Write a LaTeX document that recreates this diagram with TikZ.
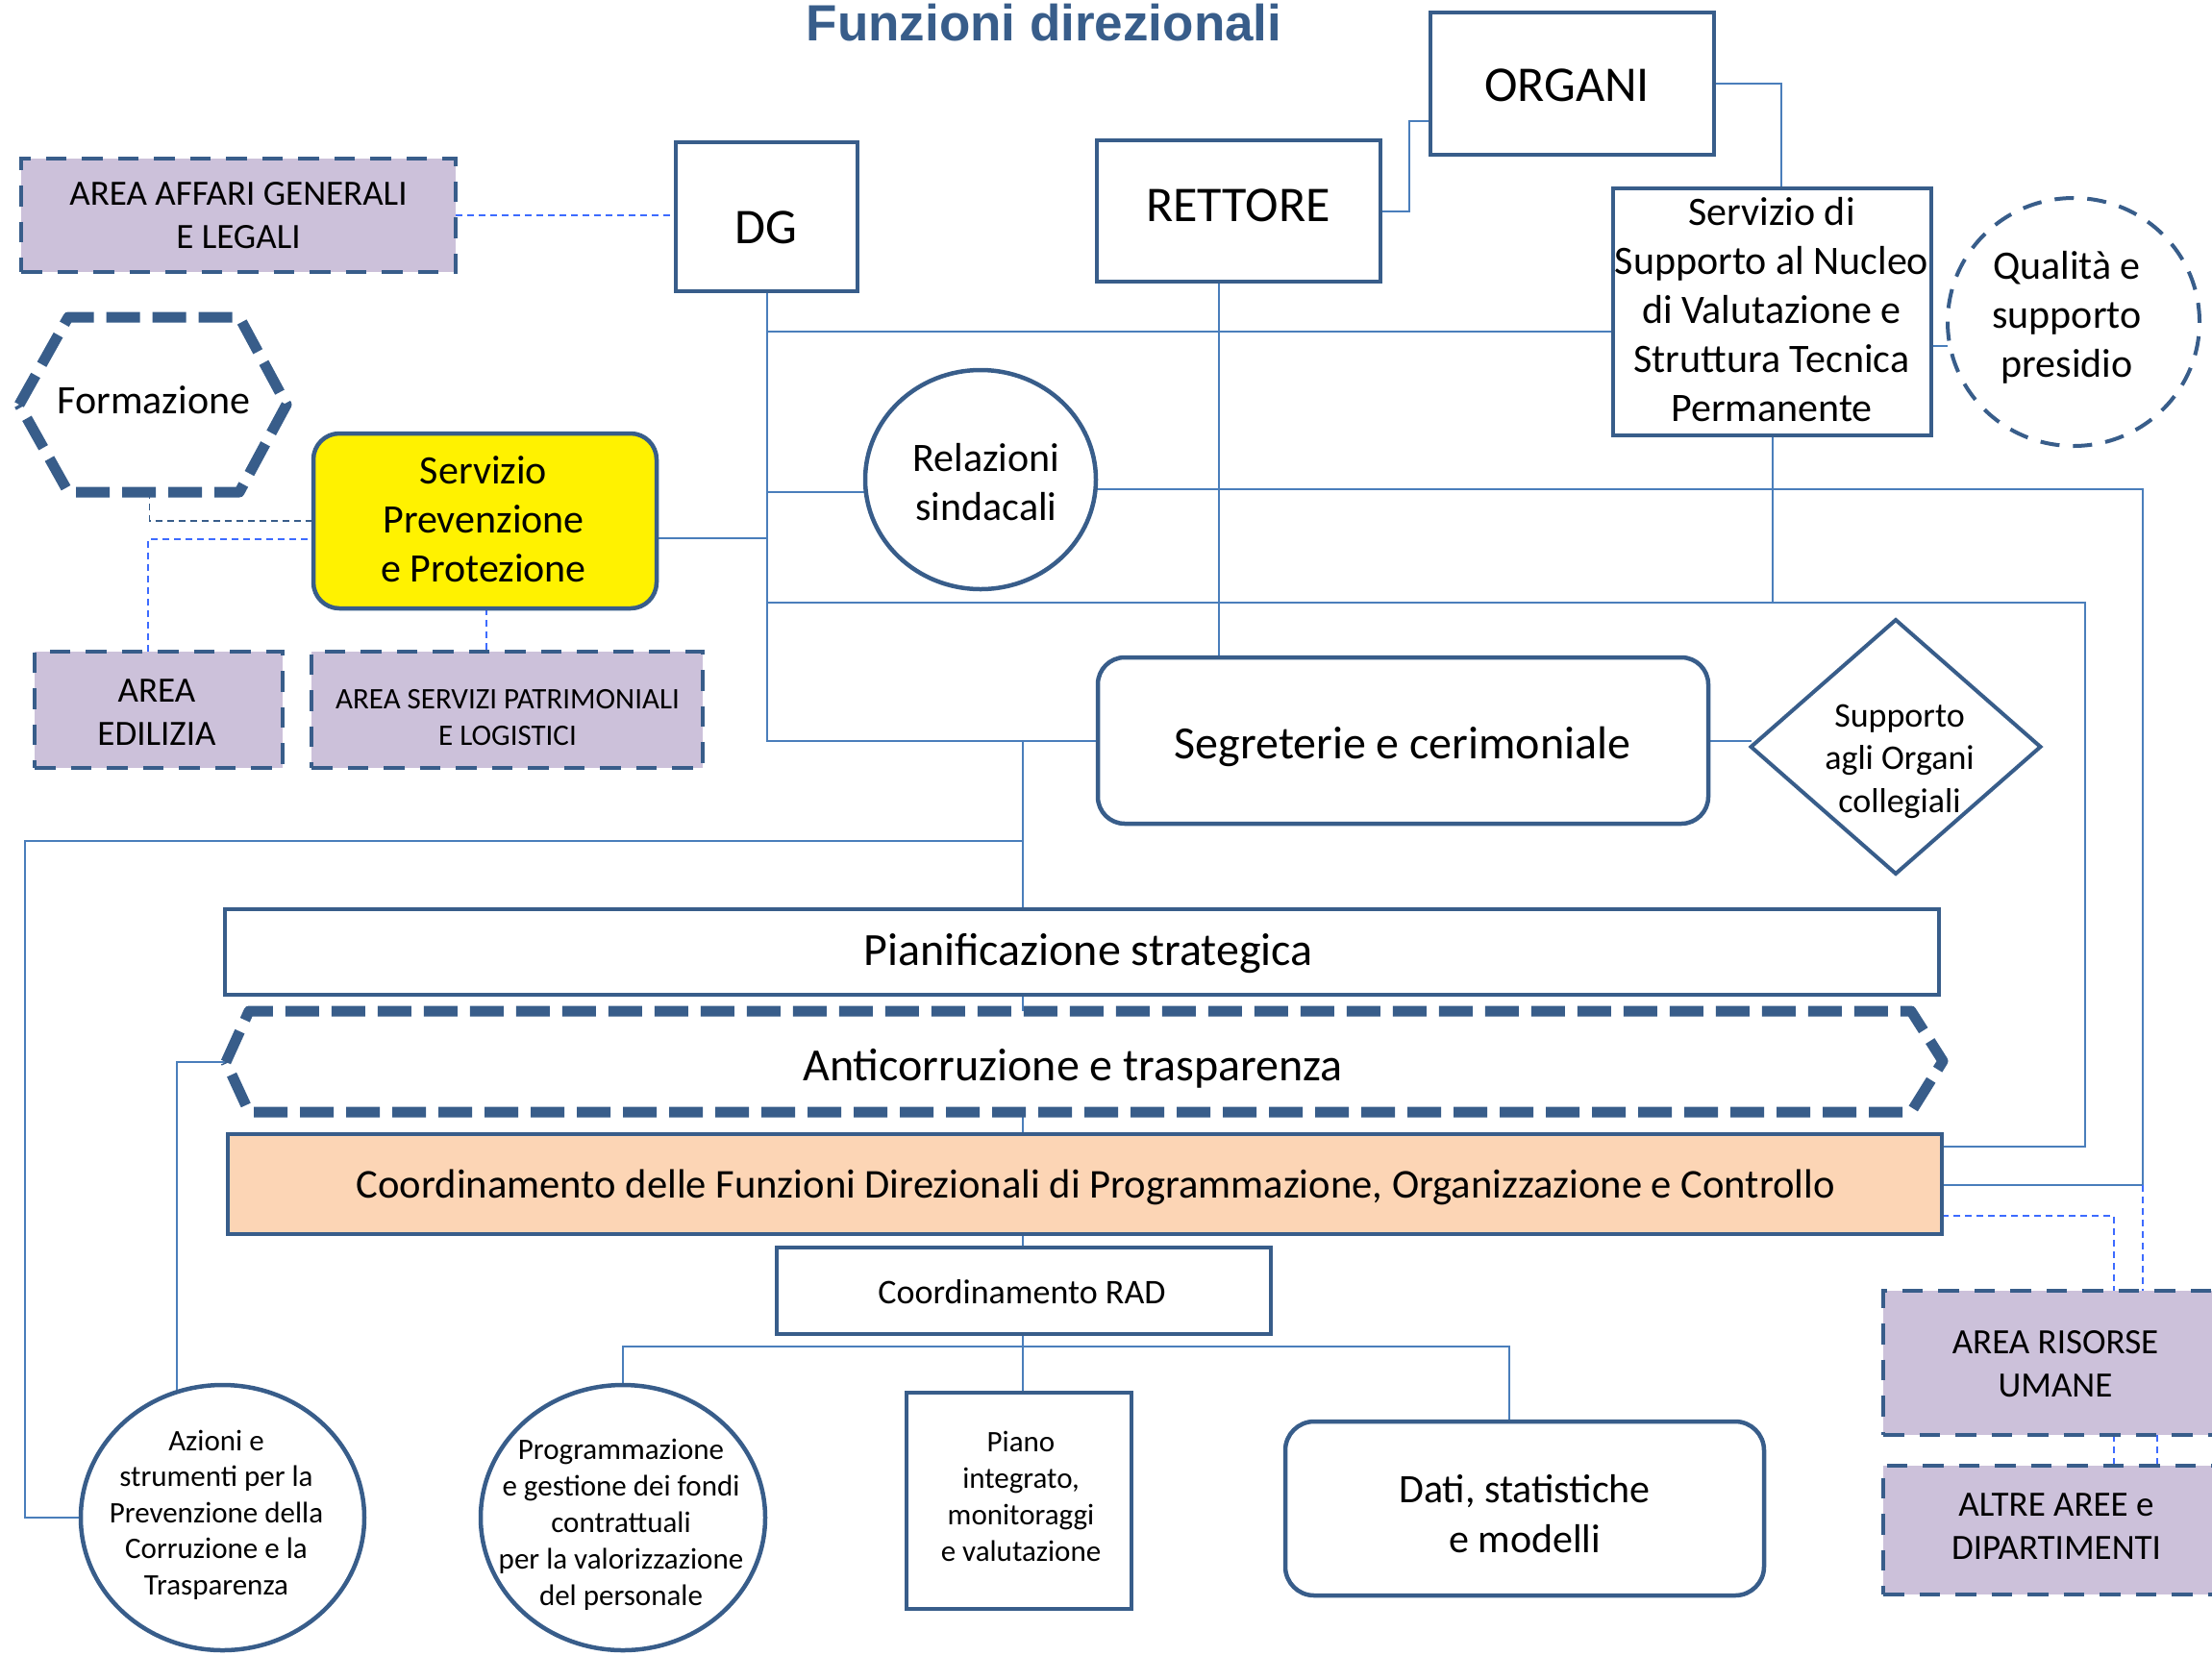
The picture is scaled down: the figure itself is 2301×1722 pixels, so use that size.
\documentclass[tikz,border=0pt]{standalone}
\usepackage{fontspec}
\setmainfont{Carlito}
\newfontfamily\titlefont{Liberation Sans}
\usetikzlibrary{shapes.geometric,calc}
\pgfdeclarelayer{bglayer}
\pgfsetlayers{bglayer,main}
\definecolor{bord}{RGB}{56,93,138}
\definecolor{lnc}{RGB}{74,126,187}
\definecolor{dblue}{RGB}{61,107,255}
\definecolor{lav}{RGB}{204,193,218}
\definecolor{peach}{RGB}{252,213,181}
\newcommand\myfs[2]{\fontsize{#1}{#2}\selectfont}
\begin{document}
\begin{tikzpicture}[x=1pt,y=-1pt,
  box/.style={rectangle,draw=bord,line width=4.5,fill=white,inner sep=0,outer sep=0},
  area/.style={rectangle,draw=bord,line width=4.5,fill=lav,inner sep=0,outer sep=0,dash pattern=on 21.5pt off 16pt},
  conn/.style={draw=lnc,line width=2},
  dconn/.style={draw=dblue,line width=1.6,dash pattern=on 7pt off 5pt},
  ddark/.style={draw=bord,line width=1.6,dash pattern=on 7pt off 5pt},
  txt/.style={align=center,inner sep=0,outer sep=0,execute at begin node=\strut,execute at end node=\strut},
  hexd/.style={draw=bord,line width=11,fill=white,dash pattern=on 35pt off 13pt,line join=round},
  holder/.style={rectangle,inner sep=0,outer sep=0}
]
\useasboundingbox (0,0) rectangle (2301,1722);

% title
\node[anchor=base,inner sep=0,text=bord,font=\titlefont\bfseries\myfs{53}{64}] (title) at (1086,42) {Funzioni direzionali};

% shapes
\node[area,minimum width=452,minimum height=118] (aag) at (248,224) {};
\node[box,minimum width=189,minimum height=155] (dg) at (797.5,225.5) {};
\node[box,minimum width=295,minimum height=147] (rett) at (1288.5,219.5) {};
\node[box,minimum width=295,minimum height=148] (org) at (1635.5,87) {};
\node[box,minimum width=331,minimum height=257] (nuc) at (1843.5,324.5) {};
\node[ellipse,draw=bord,line width=4,dash pattern=on 20pt off 14pt,fill=white,inner sep=0,outer sep=0,minimum width=262,minimum height=258] (qual) at (2157,335) {};
\node[box,ellipse,minimum width=240,minimum height=228] (rel) at (1020,499) {};
\node[holder,minimum width=278,minimum height=182] (form) at (159,421) {};
\draw[hexd] (20,421) -- (71,330) -- (249,330) -- (298,421) -- (249,512) -- (71,512) -- cycle;
\node[box,fill=yellow,rounded corners=27,minimum width=357,minimum height=182] (spp) at (504.5,542) {};
\node[area,minimum width=258,minimum height=121] (edil) at (165,738.5) {};
\node[area,minimum width=407,minimum height=121] (patr) at (527.5,738.5) {};
\node[box,rounded corners=28,minimum width=635,minimum height=173] (seg) at (1459.5,770.5) {};
\node[box,diamond,line width=4,minimum width=301,minimum height=264] (sup) at (1972,777) {};
\node[box,minimum width=1783,minimum height=89] (pian) at (1125.5,990.5) {};
\node[holder,minimum width=1786,minimum height=105] (anti) at (1128,1104.5) {};
\draw[hexd] (235,1105) -- (259,1052) -- (1988,1052) -- (2021,1104) -- (1988,1157) -- (259,1157) -- cycle;
\node[box,fill=peach,minimum width=1783,minimum height=104] (coord) at (1128.5,1232) {};
\node[box,minimum width=514,minimum height=90] (rad) at (1065,1343) {};
\node[box,ellipse,minimum width=295,minimum height=276] (azi) at (231.5,1579) {};
\node[box,ellipse,minimum width=296,minimum height=276] (prog) at (648,1579) {};
\node[box,minimum width=234,minimum height=225] (piano) at (1060,1561.5) {};
\node[box,rounded corners=30,minimum width=498,minimum height=181] (dati) at (1586,1569.5) {};
\node[area,minimum width=358,minimum height=150] (ris) at (2138,1418) {};
\node[area,minimum width=358,minimum height=134] (altre) at (2138,1592) {};

% texts
\node[txt,font=\myfs{37}{45}] (taag) at (248,230.5) {AREA AFFARI GENERALI\\E LEGALI};
\node[txt,font=\myfs{52}{63}] (tdg) at (797,240.5) {DG};
\node[txt,font=\myfs{52}{63}] (trett) at (1288,217.5) {RETTORE};
\node[txt,font=\myfs{52}{63}] (torg) at (1630,93) {ORGANI};
\node[txt,font=\myfs{42}{51}] (tnuc) at (1843,330) {Servizio di\\Supporto al Nucleo\\di Valutazione e\\Struttura Tecnica\\Permanente};
\node[txt,font=\myfs{42}{51}] (tqual) at (2150,334.5) {Qualità e\\supporto\\presidio};
\node[txt,font=\myfs{42}{51}] (trel) at (1026,509.5) {Relazioni\\sindacali};
\node[txt,font=\myfs{42}{51}] (tform) at (160,420) {Formazione};
\node[txt,font=\myfs{42}{51}] (tspp) at (503,547.5) {Servizio\\Prevenzione\\e Protezione};
\node[txt,font=\myfs{37}{45}] (tedil) at (163,748) {AREA\\EDILIZIA};
\node[txt,font=\myfs{31}{38}] (tpatr) at (528,752.5) {AREA SERVIZI PATRIMONIALI\\E LOGISTICI};
\node[txt,font=\myfs{48}{58}] (tseg) at (1459,778) {Segreterie e cerimoniale};
\node[txt,font=\myfs{36}{44.5}] (tsup) at (1976,795.5) {Supporto\\agli Organi\\collegiali};
\node[txt,font=\myfs{48}{58}] (tpian) at (1132,993) {Pianificazione strategica};
\node[txt,font=\myfs{48}{58}] (tanti) at (1116,1113) {Anticorruzione e trasparenza};
\node[txt,font=\myfs{42.6}{52}] (tcoord) at (1140,1236) {Coordinamento delle Funzioni Direzionali di Programmazione, Organizzazione e Controllo};
\node[txt,font=\myfs{36}{44}] (trad) at (1063,1347.5) {Coordinamento RAD};
\node[txt,font=\myfs{31}{37.5}] (tazi) at (225,1579) {Azioni e\\strumenti per la\\Prevenzione della\\Corruzione e la\\Trasparenza};
\node[txt,font=\myfs{31}{38}] (tprog) at (646,1590) {Programmazione\\e gestione dei fondi\\contrattuali\\per la valorizzazione\\del personale};
\node[txt,font=\myfs{31}{38}] (tpiano) at (1062,1563) {Piano\\integrato,\\monitoraggi\\e valutazione};
\node[txt,font=\myfs{42}{52}] (tdati) at (1586,1582.5) {Dati, statistiche\\e modelli};
\node[txt,font=\myfs{37}{45}] (tris) at (2138,1425.5) {AREA RISORSE\\UMANE};
\node[txt,font=\myfs{37}{45}] (taltre) at (2139,1594.5) {ALTRE AREE e\\DIPARTIMENTI};

% connectors
\begin{pgfonlayer}{bglayer}
\coordinate (sp1) at ($(seg.west)+(-78,0)$);
\draw[conn] (dg.south) |- (seg.west);
\coordinate (j1) at ($(nuc.west)+(0,20.5)$);
\draw[conn] (j1) -- (j1 -| dg.south);
\coordinate (rx) at ($(rett.south)+(-20.5,0)$);
\draw[conn] (rx) -- (rx |- seg.north);
\draw[conn] (rel.186) -- (rel.186 -| dg.south);
\coordinate (rc1) at (2229,1233);
\draw[conn] (rel.355) -| (rc1) -- (rc1 -| coord.east);
\coordinate (j2) at ($(spp.east)+(0,18)$);
\draw[conn] (j2) -- (j2 -| dg.south);
\coordinate (nj) at ($(nuc.south)+(0,173.5)$);
\draw[conn] (nuc.south) -- (nj) -- (nj -| dg.south);
\coordinate (rc2) at (2169,1193);
\draw[conn] (nj) -| (rc2) -- (rc2 -| coord.east);
\coordinate (oj) at ($(org.west)+(-22,39)$);
\draw[conn] (rett.east) -| (oj) -- (oj -| org.west);
\coordinate (oe) at ($(nuc.north)+(9.5,0)$);
\draw[conn] (org.east) -| (oe);
\coordinate (j3) at ($(nuc.east)+(0,35.5)$);
\draw[conn] (j3) -- (j3 -| qual.west);
\draw[conn] (seg.east) -- (seg.east -| sup.west);
\draw[conn] (sp1) -- (sp1 |- piano.north);
\coordinate (lj) at (26,875);
\draw[conn] (azi.west) -| (lj) -- (lj -| sp1);
\draw[conn] (azi.110) |- (anti.west);
\coordinate (bj0) at (sp1 |- rad.south);
\coordinate (bj) at ($(bj0)+(0,13)$);
\coordinate (dtop) at ($(dati.north)+(-16,0)$);
\draw[conn] (prog.north) |- (bj) -| (dtop);
% dashed links
\draw[dconn] (aag.east) -- (aag.east -| dg.west);
\coordinate (fb) at ($(form.south)+(-3.5,0)$);
\draw[ddark] (fb) |- (spp.west);
\coordinate (eb) at ($(edil.north)+(-11,0)$);
\coordinate (sw) at ($(spp.west)+(0,19)$);
\draw[dconn] (eb) |- (sw);
\coordinate (sb) at ($(spp.south)+(1.5,0)$);
\draw[dconn] (sb) -- (sb |- patr.north);
\coordinate (ce) at ($(coord.east)+(0,33)$);
\coordinate (rn) at ($(ris.north)+(61,0)$);
\draw[dconn] (ce) -| (rn);
\draw[dconn] (rc1) -- (rc1 |- ris.north);
\coordinate (rs1) at ($(ris.south)+(61,0)$);
\coordinate (rs2) at ($(ris.south)+(106,0)$);
\draw[dconn] (rs1) -- (rs1 |- altre.north);
\draw[dconn] (rs2) -- (rs2 |- altre.north);
\end{pgfonlayer}
\end{tikzpicture}
\end{document}
